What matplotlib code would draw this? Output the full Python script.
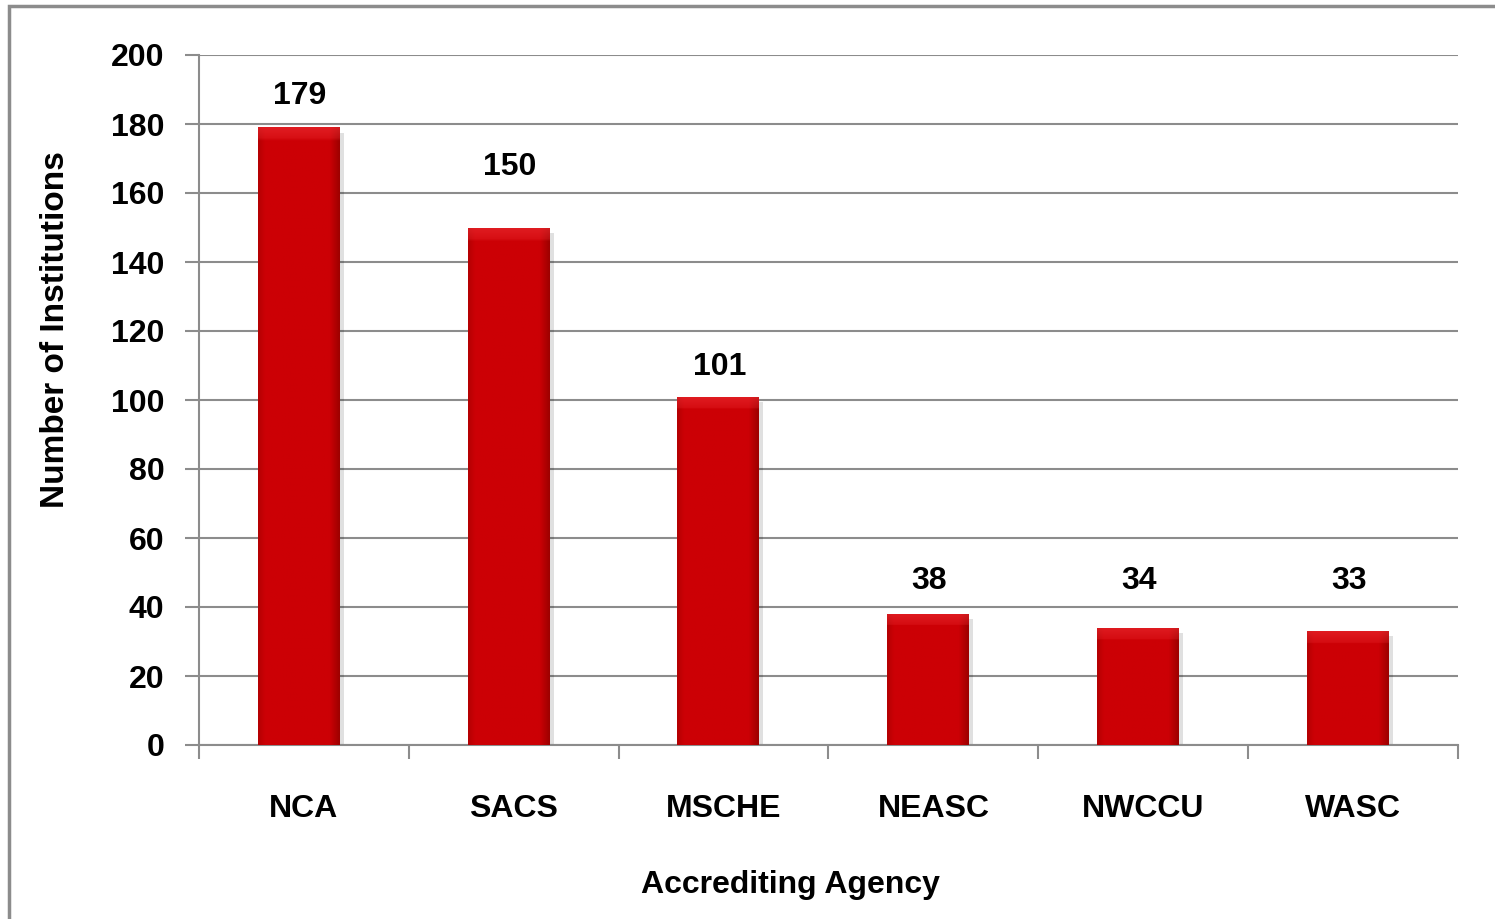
import numpy as np
import matplotlib.pyplot as plt
from matplotlib.patches import Rectangle

AGENCIES = ["NCA", "SACS", "MSCHE", "NEASC", "NWCCU", "WASC"]
INSTITUTIONS = [179, 150, 101, 38, 34, 33]
# where the value labels sit (data units), as placed in the original chart
LABEL_Y = [188, 167.5, 109.5, 47.5, 47.5, 47.5]

GRAY = "#8c8c8c"
FONT = ["Liberation Sans", "DejaVu Sans"]
FS = 23


def bar_image(height, bevel=3.5, ncols=60, nrows=200):
    # horizontal shading: darker towards the edges, darkest on the right
    x = np.linspace(0, 1, ncols)
    dark = np.array([0.62, 0.0, 0.0])
    mid = np.array([0.80, 0.0, 0.02])
    edge_l = np.clip(1 - x / 0.08, 0, 1)
    edge_r = np.clip((x - 0.88) / 0.12, 0, 1)
    w = np.maximum(edge_l * 0.5, edge_r)[:, None]
    row = mid * (1 - w) + dark * w
    img = np.repeat(row[None, :, :], nrows, axis=0)
    # lighter bevel on the top
    frac = min(bevel / height, 0.5)
    top = int(round(frac * nrows))
    light = np.array([0.93, 0.18, 0.20])
    for i in range(top):
        t = 1 - i / max(top, 1) * 0.6
        img[i] = img[i] * (1 - t * 0.6) + light * t * 0.6
    return img


fig = plt.figure(figsize=(14.95, 9.19), dpi=100)
ax = fig.add_axes([199 / 1495, 1 - 745 / 919, (1458 - 199) / 1495, (745 - 55) / 919])

x = np.arange(len(AGENCIES))
bars = ax.bar(x - 0.025, INSTITUTIONS, width=0.39, color="#cc0000", zorder=3)

for b, v in zip(bars, INSTITUTIONS):
    x0, w = b.get_x(), b.get_width()
    # soft shadow on the right
    ax.add_patch(Rectangle((x0 + w, 0), 0.02, v - 1.5, color="#000000",
                           alpha=0.12, lw=0, zorder=2))
    im = ax.imshow(bar_image(v), extent=[x0, x0 + w, 0, v], aspect="auto",
                   zorder=4, interpolation="bilinear")
    im.set_clip_path(b)

for xi, ly, v in zip(x, LABEL_Y, INSTITUTIONS):
    ax.text(xi - 0.02, ly, str(v), ha="center", va="center", fontsize=FS,
            fontweight="bold", family=FONT)

ax.set_xlim(-0.5, len(AGENCIES) - 0.5)
ax.set_ylim(0, 200)
ax.set_yticks(range(0, 201, 20))
ax.yaxis.grid(True, color=GRAY, lw=1.5, zorder=0)
ax.set_axisbelow(True)

ax.set_xticks(np.arange(-0.5, len(AGENCIES), 1.0))
ax.set_xticklabels([])
ax.set_xticks(x, minor=True)
ax.set_xticklabels(AGENCIES, minor=True)
ax.tick_params(axis="x", which="major", length=10, width=1.5, color=GRAY, direction="out")
ax.tick_params(axis="x", which="minor", length=0, pad=35)
ax.tick_params(axis="y", length=10, width=1.5, color=GRAY, pad=15)

for lab in ax.get_yticklabels() + ax.get_xticklabels(minor=True):
    lab.set_fontsize(FS)
    lab.set_fontweight("bold")
    lab.set_family(FONT)

for side in ["top", "right"]:
    ax.spines[side].set_visible(False)
for side in ["left", "bottom"]:
    ax.spines[side].set_color(GRAY)
    ax.spines[side].set_linewidth(1.5)

fig.text(55 / 1495, 1 - 330 / 919, "Number of Institutions", rotation=90,
         ha="center", va="center", fontsize=24, fontweight="bold", family=FONT)
fig.text(790 / 1495, 1 - 885 / 919, "Accrediting Agency", ha="center",
         va="center", fontsize=23, fontweight="bold", family=FONT)

# chart frame
fig.patches.append(Rectangle((9 / 1495, -0.05), 1.1, 1.05 - 6 / 919,
                             transform=fig.transFigure, fill=False,
                             edgecolor=GRAY, lw=2.5))

fig.savefig("out.png", dpi=100)
